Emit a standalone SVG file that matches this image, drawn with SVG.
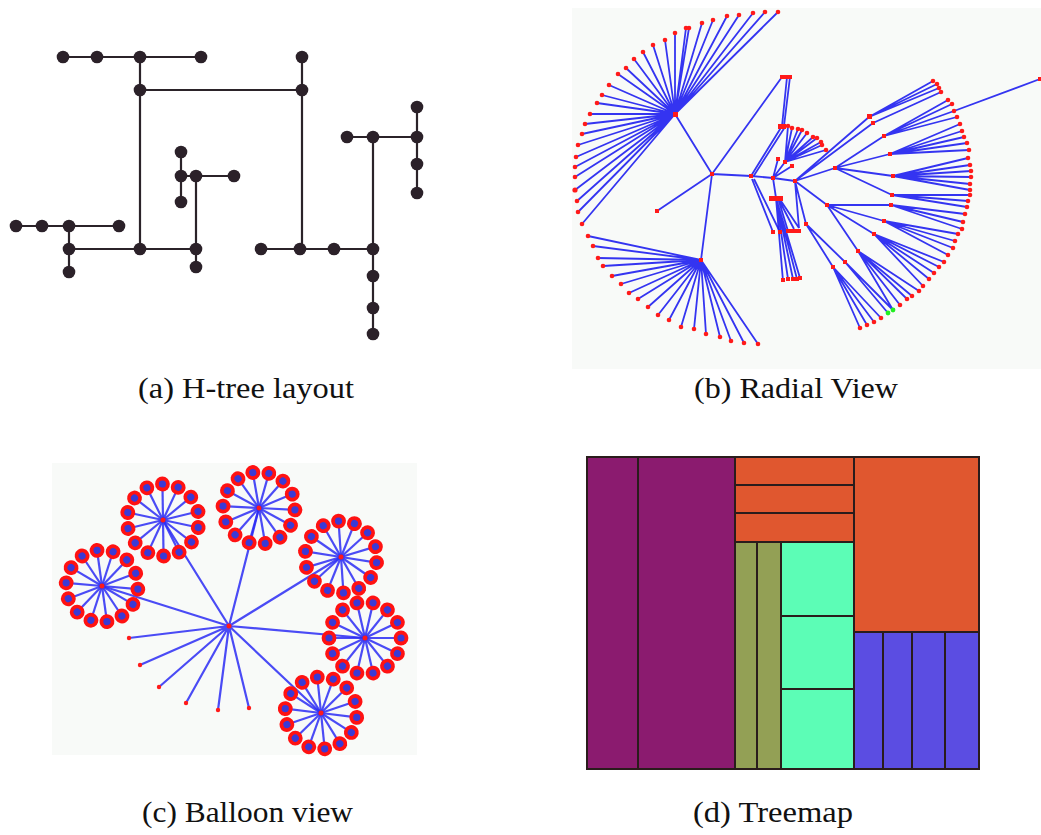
<svg xmlns="http://www.w3.org/2000/svg" xmlns:xlink="http://www.w3.org/1999/xlink" width="1041" height="835" viewBox="0 0 1041 835">
<style>
.ht{stroke:#2b2329;stroke-width:2.2;fill:none}
.hn{fill:#2b2129}
.rl{stroke:#1e1ef0;stroke-width:1.8;fill:none;stroke-opacity:0.9}
.rn{fill:#ff1a1a}
.bl{stroke:#2c2cf4;stroke-width:2.2;fill:none;stroke-opacity:0.85}
.tm{stroke:#2a1c1c;stroke-width:2}
.lab{font-family:"Liberation Serif","Times New Roman",serif;font-size:30px;fill:#111}
</style>
<defs>
<g id="spoke"><line x1="0" y1="0" x2="36" y2="0" class="bl"/><circle cx="36" cy="0" r="7.4" fill="#ff1212"/><circle cx="36" cy="0" r="3.6" fill="#3a3ad6"/></g>
<g id="ring">
<use href="#spoke" transform="rotate(0)"/><use href="#spoke" transform="rotate(25.7)"/><use href="#spoke" transform="rotate(51.4)"/><use href="#spoke" transform="rotate(77.1)"/><use href="#spoke" transform="rotate(102.9)"/><use href="#spoke" transform="rotate(128.6)"/><use href="#spoke" transform="rotate(154.3)"/><use href="#spoke" transform="rotate(180)"/><use href="#spoke" transform="rotate(205.7)"/><use href="#spoke" transform="rotate(231.4)"/><use href="#spoke" transform="rotate(257.1)"/><use href="#spoke" transform="rotate(282.9)"/><use href="#spoke" transform="rotate(308.6)"/><use href="#spoke" transform="rotate(334.3)"/>
<circle r="2.5" fill="#ff1a1a"/>
</g>
</defs>
<rect width="1041" height="835" fill="#ffffff"/>

<!-- (a) H-tree -->
<g id="htree">
<g id="htree-edges">
<path class="ht" d="M63 57H201 M140 57V249 M140 90H302 M302 57V249 M261 249H373 M373 137V334 M347 137H417 M417 107V193 M181 152V202 M181 176H234 M196 176V267 M69 249H196 M16 226H119 M69 226V272"/>
</g>
<g id="htree-nodes" class="hn">
<circle cx="63" cy="57" r="6.3"/><circle cx="97" cy="57" r="6.3"/><circle cx="140" cy="57" r="6.3"/><circle cx="201" cy="57" r="6.3"/><circle cx="302" cy="57" r="6.3"/>
<circle cx="140" cy="90" r="6.3"/><circle cx="302" cy="90" r="6.3"/>
<circle cx="417" cy="107" r="6.3"/><circle cx="347" cy="137" r="6.3"/><circle cx="373" cy="137" r="6.3"/><circle cx="417" cy="137" r="6.3"/><circle cx="417" cy="164" r="6.3"/><circle cx="417" cy="193" r="6.3"/>
<circle cx="181" cy="152" r="6.3"/><circle cx="181" cy="176" r="6.3"/><circle cx="196" cy="176" r="6.3"/><circle cx="234" cy="176" r="6.3"/><circle cx="181" cy="202" r="6.3"/>
<circle cx="16" cy="226" r="6.3"/><circle cx="42" cy="226" r="6.3"/><circle cx="69" cy="226" r="6.3"/><circle cx="119" cy="226" r="6.3"/>
<circle cx="69" cy="249" r="6.3"/><circle cx="140" cy="249" r="6.3"/><circle cx="196" cy="249" r="6.3"/><circle cx="196" cy="267" r="6.3"/><circle cx="69" cy="272" r="6.3"/>
<circle cx="261" cy="249" r="6.3"/><circle cx="300" cy="249" r="6.3"/><circle cx="334" cy="249" r="6.3"/><circle cx="373" cy="249" r="6.3"/>
<circle cx="373" cy="276" r="6.3"/><circle cx="373" cy="308" r="6.3"/><circle cx="373" cy="334" r="6.3"/>
</g>
</g>

<!-- (b) Radial view -->
<g id="radial">
<rect x="572" y="8" width="469" height="361" fill="#f8faf8"/>
<g id="radial-edges" class="rl">
<path d="M712 174L675 114 M712 174L701 260 M712 174L657 211 M712 174L751 176 M712 174L782 77 M751 176L782 126 M753 177L785 127 M787 77L782 126 M790 77L784 126 M751 176L773 178 L795 181 M752 179L773 232 M754 179L780 232"/>
<path d="M675 114L778 12M675 114L765 12M675 114L753 13M675 114L739 15M675 114L727 16M675 114L713 20M675 114L702 23M675 114L689 28M675 114L686 28M675 114L675 33M675 114L665 40M675 114L653 45M675 114L643 52M675 114L634 59M675 114L626 68M675 114L618 74M675 114L609 85M675 114L602 95M675 114L597 103M675 114L590 114M675 114L585 124M675 114L582 134M675 114L578 145M675 114L576 157M675 114L575 167M675 114L575 177M675 114L575 190M675 114L577 201M675 114L578 212M675 114L582 224"/>
<path d="M701 260L588 236M701 260L593 246M701 260L598 258M701 260L603 266M701 260L612 276M701 260L621 284M701 260L629 293M701 260L638 299M701 260L648 307M701 260L658 315M701 260L669 320M701 260L681 327M701 260L694 329M701 260L706 334M701 260L720 337M701 260L731 341M701 260L744 343M701 260L758 344"/>
<path d="M773 178L778 159M773 178L785 162M773 178L792 166 M785 162L788 126M785 162L792 128M785 162L798 129M785 162L802 130M785 162L807 133M785 162L813 137M785 162L817 138M785 162L821 142M785 162L822 145M785 162L826 150"/>
<path d="M773 178L776 198 M776 198L783 281M776 198L788 279M776 198L793 279M776 198L797 279M776 198L800 278 M778 198L788 231M778 198L794 229M779 198L799 228 M795 181L799 228 M795 181L806 224"/>
<path d="M795 181L827 205 M795 181L835 168 M795 181L869 117 M795 181L873 123 M869 117L933 81M869 117L937 84M869 117L939 88M873 123L941 92 M835 168L884 136M835 168L890 154M835 168L893 176M835 168L892 195 M884 136L948 100M884 136L952 104M884 136L954 111M884 136L957 117 M954 111L1040 79 M890 154L960 124M890 154L962 131M890 154L964 137M890 154L967 143M890 154L969 150 M893 176L968 158M893 176L970 165M893 176L971 171M893 176L971 177M893 176L970 184M893 176L970 190 M892 195L970 195M892 195L968 201M892 195L967 207"/>
<path d="M827 205L891 205M827 205L884 221M827 205L874 234M827 205L858 251 M891 205L965 214M891 205L963 222M891 205L962 229 M884 221L958 234M884 221L955 241M884 221L953 248M884 221L948 255 M874 234L944 262M874 234L939 267M874 234L934 273M874 234L929 279M874 234L923 286 M858 251L919 291M858 251L912 296M858 251L907 299M858 251L900 305M858 251L893 310 M806 224L833 267M806 224L845 262 M845 262L888 313M845 262L893 310 M833 267L881 318M833 267L874 322M833 267L867 325M833 267L860 328"/>
</g>
<g id="radial-nodes" class="rn">
<rect x="710" y="172" width="4" height="4"/><rect x="673" y="112" width="5" height="5"/><rect x="699" y="258" width="4" height="4"/><rect x="655" y="209" width="4" height="4"/><rect x="749" y="174" width="4" height="4"/>
<rect x="778" y="124" width="8" height="5"/><rect x="783" y="160" width="4" height="4"/><rect x="771" y="176" width="4" height="4"/><rect x="793" y="179" width="4" height="4"/>
<rect x="780" y="75" width="12" height="4"/><rect x="776" y="157" width="4" height="4"/><rect x="790" y="164" width="4" height="4"/>
<rect x="769" y="196" width="14" height="5"/><rect x="771" y="230" width="4" height="4"/><rect x="778" y="230" width="4" height="4"/><rect x="786" y="229" width="15" height="4"/><rect x="804" y="222" width="4" height="4"/>
<rect x="781" y="278" width="4" height="4"/><rect x="786" y="277" width="4" height="4"/><rect x="791" y="277" width="4" height="4"/><rect x="795" y="277" width="4" height="4"/><rect x="798" y="276" width="4" height="4"/>
<rect x="825" y="203" width="4" height="4"/><rect x="833" y="166" width="4" height="4"/><rect x="867" y="114" width="5" height="5"/><rect x="871" y="121" width="4" height="4"/>
<rect x="882" y="134" width="4" height="4"/><rect x="888" y="152" width="4" height="4"/><rect x="891" y="174" width="4" height="4"/><rect x="890" y="193" width="4" height="4"/>
<rect x="889" y="203" width="4" height="4"/><rect x="882" y="219" width="4" height="4"/><rect x="872" y="232" width="4" height="4"/><rect x="856" y="249" width="4" height="4"/><rect x="831" y="265" width="4" height="4"/><rect x="843" y="260" width="4" height="4"/>
<rect x="1038" y="77" width="4" height="4"/>
</g>
<g id="radial-leaves" class="rn">
<circle cx="778" cy="12" r="2.3"/><circle cx="765" cy="12" r="2.3"/><circle cx="753" cy="13" r="2.3"/><circle cx="739" cy="15" r="2.3"/><circle cx="727" cy="16" r="2.3"/><circle cx="713" cy="20" r="2.3"/><circle cx="702" cy="23" r="2.3"/><circle cx="689" cy="28" r="2.3"/><circle cx="686" cy="28" r="2.3"/><circle cx="675" cy="33" r="2.3"/><circle cx="665" cy="40" r="2.3"/><circle cx="653" cy="45" r="2.3"/><circle cx="643" cy="52" r="2.3"/><circle cx="634" cy="59" r="2.3"/><circle cx="626" cy="68" r="2.3"/><circle cx="618" cy="74" r="2.3"/><circle cx="609" cy="85" r="2.3"/><circle cx="602" cy="95" r="2.3"/><circle cx="597" cy="103" r="2.3"/><circle cx="590" cy="114" r="2.3"/><circle cx="585" cy="124" r="2.3"/><circle cx="582" cy="134" r="2.3"/><circle cx="578" cy="145" r="2.3"/><circle cx="576" cy="157" r="2.3"/><circle cx="575" cy="167" r="2.3"/><circle cx="575" cy="177" r="2.3"/><circle cx="575" cy="190" r="2.6"/><circle cx="577" cy="201" r="2.3"/><circle cx="578" cy="212" r="2.3"/><circle cx="582" cy="224" r="2.3"/>
<circle cx="588" cy="236" r="2.3"/><circle cx="593" cy="246" r="2.3"/><circle cx="598" cy="258" r="2.3"/><circle cx="603" cy="266" r="2.3"/><circle cx="612" cy="276" r="2.3"/><circle cx="621" cy="284" r="2.3"/><circle cx="629" cy="293" r="2.3"/><circle cx="638" cy="299" r="2.3"/><circle cx="648" cy="307" r="2.3"/><circle cx="658" cy="315" r="2.3"/><circle cx="669" cy="320" r="2.3"/><circle cx="681" cy="327" r="2.3"/><circle cx="694" cy="329" r="2.3"/><circle cx="706" cy="334" r="2.3"/><circle cx="720" cy="337" r="2.3"/><circle cx="731" cy="341" r="2.3"/><circle cx="744" cy="343" r="2.3"/><circle cx="758" cy="344" r="2.3"/>
<circle cx="788" cy="126" r="2.3"/><circle cx="792" cy="128" r="2.3"/><circle cx="798" cy="129" r="2.3"/><circle cx="802" cy="130" r="2.3"/><circle cx="807" cy="133" r="2.3"/><circle cx="813" cy="137" r="2.3"/><circle cx="817" cy="138" r="2.3"/><circle cx="821" cy="142" r="2.3"/><circle cx="822" cy="145" r="2.3"/><circle cx="826" cy="150" r="2.3"/>
<circle cx="933" cy="81" r="2.3"/><circle cx="937" cy="84" r="2.3"/><circle cx="939" cy="88" r="2.3"/><circle cx="941" cy="92" r="2.3"/><circle cx="948" cy="100" r="2.3"/><circle cx="952" cy="104" r="2.3"/><circle cx="954" cy="111" r="2.3"/><circle cx="957" cy="117" r="2.3"/><circle cx="960" cy="124" r="2.3"/><circle cx="962" cy="131" r="2.3"/><circle cx="964" cy="137" r="2.3"/><circle cx="967" cy="143" r="2.3"/><circle cx="969" cy="150" r="2.3"/><circle cx="968" cy="158" r="2.3"/><circle cx="970" cy="165" r="2.3"/><circle cx="971" cy="171" r="2.3"/><circle cx="971" cy="177" r="2.3"/><circle cx="970" cy="184" r="2.3"/><circle cx="970" cy="190" r="2.3"/><circle cx="970" cy="195" r="2.3"/><circle cx="968" cy="201" r="2.3"/><circle cx="967" cy="207" r="2.3"/><circle cx="965" cy="214" r="2.3"/><circle cx="963" cy="222" r="2.3"/><circle cx="962" cy="229" r="2.3"/><circle cx="958" cy="234" r="2.3"/><circle cx="955" cy="241" r="2.3"/><circle cx="953" cy="248" r="2.3"/><circle cx="948" cy="255" r="2.3"/><circle cx="944" cy="262" r="2.3"/><circle cx="939" cy="267" r="2.3"/><circle cx="934" cy="273" r="2.3"/><circle cx="929" cy="279" r="2.3"/><circle cx="923" cy="286" r="2.3"/><circle cx="919" cy="291" r="2.3"/><circle cx="912" cy="296" r="2.3"/><circle cx="907" cy="299" r="2.3"/><circle cx="900" cy="305" r="2.3"/><circle cx="881" cy="318" r="2.3"/><circle cx="874" cy="322" r="2.3"/><circle cx="867" cy="325" r="2.3"/><circle cx="860" cy="328" r="2.3"/>
<circle cx="893" cy="310" r="2.4" fill="#22ee22"/><circle cx="888" cy="313" r="2.4" fill="#22ee22"/>
</g>
</g>

<!-- (c) Balloon view -->
<g id="balloon">
<rect x="52" y="463" width="365" height="292" fill="#f8faf8"/>
<g id="balloon-edges" class="bl">
<path d="M229 626L102 586M229 626L163 520M229 626L259 508M229 626L341 557M229 626L365 638M229 626L321 713M229 626L129 638M229 626L140 665M229 626L159 687M229 626L186 703M229 626L218 710M229 626L249 708"/>
</g>
<g id="balloon-leaves" class="rn">
<circle cx="229" cy="626" r="2.5"/><circle cx="129" cy="638" r="2.2"/><circle cx="140" cy="665" r="2.2"/><circle cx="159" cy="687" r="2.2"/><circle cx="186" cy="703" r="2.2"/><circle cx="218" cy="710" r="2.2"/><circle cx="249" cy="708" r="2.2"/>
</g>
<g id="balloon-1"><use href="#ring" transform="translate(102,586) rotate(5)"/></g>
<g id="balloon-2"><use href="#ring" transform="translate(163,520) rotate(12)"/></g>
<g id="balloon-3"><use href="#ring" transform="translate(259,508) rotate(3)"/></g>
<g id="balloon-4"><use href="#ring" transform="translate(341,557) rotate(9)"/></g>
<g id="balloon-5"><use href="#ring" transform="translate(365,638) rotate(0)"/></g>
<g id="balloon-6"><use href="#ring" transform="translate(321,713) rotate(7)"/></g>
</g>

<!-- (d) Treemap -->
<g id="treemap" class="tm">
<rect x="587" y="457" width="51" height="312" fill="#8b1b6f"/>
<rect x="638" y="457" width="97" height="312" fill="#8b1b6f"/>
<rect x="735" y="457" width="119" height="28" fill="#e0572f"/>
<rect x="735" y="485" width="119" height="28" fill="#e0572f"/>
<rect x="735" y="513" width="119" height="29" fill="#e0572f"/>
<rect x="735" y="542" width="22" height="227" fill="#93a055"/>
<rect x="757" y="542" width="24" height="227" fill="#93a055"/>
<rect x="781" y="542" width="73" height="74" fill="#5cfdb6"/>
<rect x="781" y="616" width="73" height="73" fill="#5cfdb6"/>
<rect x="781" y="689" width="73" height="80" fill="#5cfdb6"/>
<rect x="854" y="457" width="125" height="175" fill="#e0572f"/>
<rect x="854" y="632" width="29" height="137" fill="#5b4de2"/>
<rect x="883" y="632" width="29" height="137" fill="#5b4de2"/>
<rect x="912" y="632" width="33" height="137" fill="#5b4de2"/>
<rect x="945" y="632" width="34" height="137" fill="#5b4de2"/>
</g>

<g id="labels" class="lab">
<text x="138" y="398" textLength="216" lengthAdjust="spacingAndGlyphs">(a) H-tree layout</text>
<text x="694" y="398" textLength="204" lengthAdjust="spacingAndGlyphs">(b) Radial View</text>
<text x="142" y="822" textLength="211" lengthAdjust="spacingAndGlyphs">(c) Balloon view</text>
<text x="693" y="822" textLength="160" lengthAdjust="spacingAndGlyphs">(d) Treemap</text>
</g>
</svg>
